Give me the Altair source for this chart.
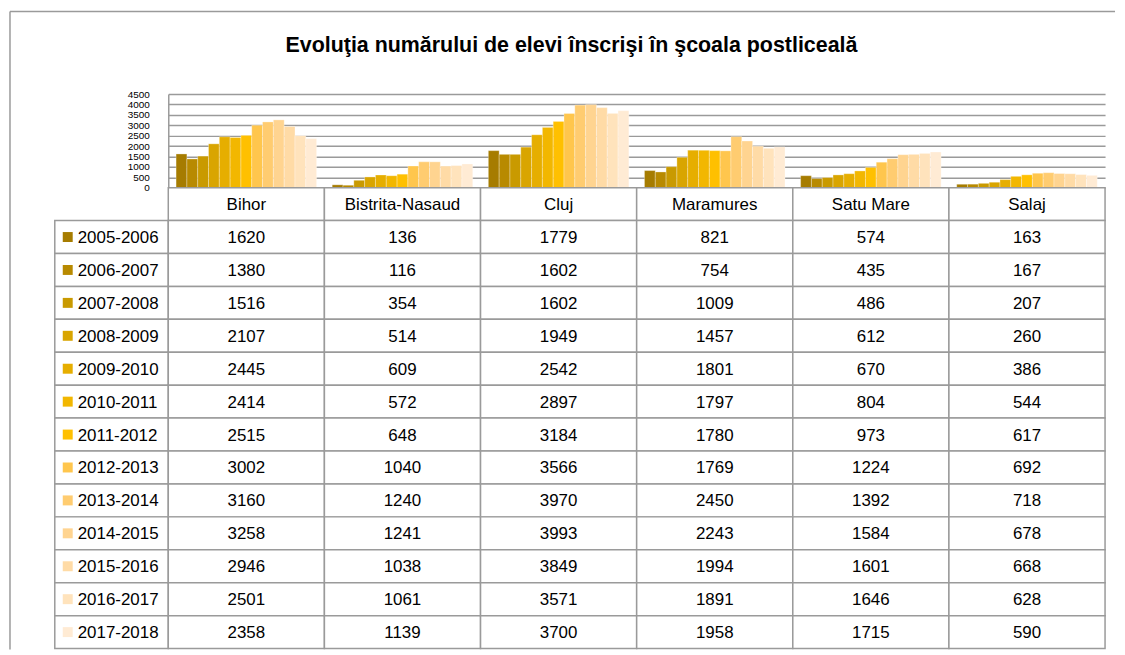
import altair as alt
import pandas as pd

counties = ["Bihor", "Bistrita-Nasaud", "Cluj", "Maramures", "Satu Mare", "Salaj"]
years = ["2005-2006", "2006-2007", "2007-2008", "2008-2009", "2009-2010", "2010-2011",
         "2011-2012", "2012-2013", "2013-2014", "2014-2015", "2015-2016", "2016-2017",
         "2017-2018"]
bihor = [1620, 1380, 1516, 2107, 2445, 2414, 2515, 3002, 3160, 3258, 2946, 2501, 2358]
bistrita = [136, 116, 354, 514, 609, 572, 648, 1040, 1240, 1241, 1038, 1061, 1139]
cluj = [1779, 1602, 1602, 1949, 2542, 2897, 3184, 3566, 3970, 3993, 3849, 3571, 3700]
maramures = [821, 754, 1009, 1457, 1801, 1797, 1780, 1769, 2450, 2243, 1994, 1891, 1958]
satu_mare = [574, 435, 486, 612, 670, 804, 973, 1224, 1392, 1584, 1601, 1646, 1715]
salaj = [163, 167, 207, 260, 386, 544, 617, 692, 718, 678, 668, 628, 590]
colors = ["#A67C00", "#B88A00", "#C99A00", "#D9A500", "#E6AE00", "#F2B700", "#FFC000",
          "#FFC64D", "#FFCC70", "#FFD490", "#FFDBA6", "#FFE3BC", "#FFEBD4"]
y_ticks = [0, 500, 1000, 1500, 2000, 2500, 3000, 3500, 4000, 4500]
title_text = "Evoluţia numărului de elevi înscrişi în şcoala postliceală"

series = {"Bihor": bihor, "Bistrita-Nasaud": bistrita, "Cluj": cluj,
          "Maramures": maramures, "Satu Mare": satu_mare, "Salaj": salaj}

rows = []
for c in counties:
    for y, v in zip(years, series[c]):
        rows.append({"county": c, "year": y, "value": v})
df = pd.DataFrame(rows)

HDR = "hdr"
row_domain = [HDR] + years
tab_rows = []
for c in counties:
    tab_rows.append({"county": c, "row": HDR, "label": c})
    for y, v in zip(years, series[c]):
        tab_rows.append({"county": c, "row": y, "label": str(v)})
tab = pd.DataFrame(tab_rows)
leg = pd.DataFrame({"row": years})
one = pd.DataFrame({"a": [0]})

FONT = "Liberation Sans"
GRID = "#9a9a9a"
PLOT_W, PLOT_H = 941, 94
LEG_W = 114
TAB_H = 463

color_scale = alt.Scale(domain=years, range=colors)

bars = alt.Chart(df).mark_bar(stroke="white", strokeWidth=0.5, strokeOpacity=0.6).encode(
    x=alt.X("county:N", sort=counties, axis=None,
            scale=alt.Scale(domain=counties, paddingInner=0.1, paddingOuter=0.05)),
    xOffset=alt.XOffset("year:N", sort=years, scale=alt.Scale(domain=years, paddingInner=0, paddingOuter=0)),
    y=alt.Y("value:Q", scale=alt.Scale(domain=[0, 4500], nice=False),
            axis=alt.Axis(values=y_ticks, title=None, grid=True, gridColor=GRID, gridWidth=1.5,
                          domain=True, domainColor=GRID, domainWidth=1.5, ticks=False, format="d",
                          labelFontSize=10, labelFont=FONT, labelColor="black",
                          labelOverlap=False, labelPadding=19, labelFlush=False)),
    color=alt.Color("year:N", scale=color_scale, legend=None),
)

title = alt.Chart(one).mark_text(text=title_text, font=FONT, fontSize=21.5, fontWeight="bold",
                                 align="center", baseline="middle", color="black").encode(
    x=alt.value(405), y=alt.value(-48))

frame_top = alt.Chart(one).mark_rule(color=GRID, strokeWidth=1.5).encode(
    x=alt.value(-159), x2=alt.value(951), y=alt.value(-83))
frame_left = alt.Chart(one).mark_rule(color=GRID, strokeWidth=1.5).encode(
    x=alt.value(-159), y=alt.value(-83), y2=alt.value(558))

bar_chart = alt.layer(frame_top, frame_left, bars, title).properties(width=PLOT_W, height=PLOT_H)

blank = alt.Chart(one).mark_point(opacity=0).properties(width=LEG_W, height=PLOT_H)

yrow = alt.Y("row:N", sort=row_domain, axis=None,
             scale=alt.Scale(domain=row_domain, paddingInner=0, paddingOuter=0))

leg_cells = alt.Chart(leg).mark_rect(fill="white", stroke=GRID, strokeWidth=1.5).encode(
    x=alt.value(0), x2=alt.value("width"), y=yrow)
leg_sq = alt.Chart(leg).mark_square(size=100, opacity=1).encode(
    x=alt.value(13), y=yrow,
    color=alt.Color("row:N", scale=color_scale, legend=None))
leg_txt = alt.Chart(leg).mark_text(align="left", baseline="middle", font=FONT, fontSize=17,
                                   color="black", dy=1).encode(
    x=alt.value(23), y=yrow, text="row:N")
legend_chart = alt.layer(leg_cells, leg_sq, leg_txt).properties(width=LEG_W, height=TAB_H)

xcol = alt.X("county:N", sort=counties, axis=None,
             scale=alt.Scale(domain=counties, paddingInner=0, paddingOuter=0))
tab_cells = alt.Chart(tab).mark_rect(fill="white", stroke=GRID, strokeWidth=1.5).encode(
    x=xcol, y=yrow)
tab_txt = alt.Chart(tab).mark_text(align="center", baseline="middle", font=FONT, fontSize=17,
                                   color="black", dy=1).encode(
    x=xcol, y=yrow, text="label:N")
table_chart = alt.layer(tab_cells, tab_txt).properties(width=PLOT_W, height=TAB_H)

chart = alt.concat(blank, bar_chart, legend_chart, table_chart, columns=2, spacing=0,
                   bounds="flush").properties(padding=1).configure_view(stroke=None)

chart.save("out.html", embed_options={"renderer": "svg", "actions": False})
